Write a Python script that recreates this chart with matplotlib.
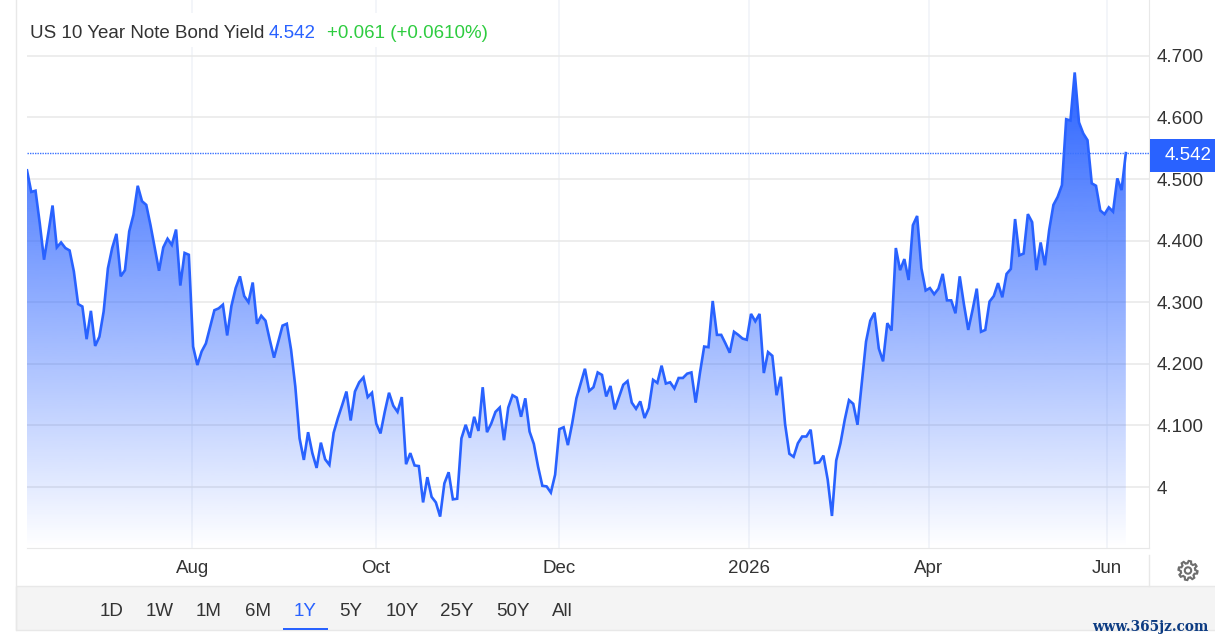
'''US 10 year yield, one year area chart with range selector bar'''

import numpy as np
from matplotlib import pyplot as plt
from matplotlib.patches import Circle, Polygon, Rectangle

plt.rcParams['font.family'] = ['Liberation Sans', 'DejaVu Sans']

BLUE = '#2962ff'
TEXT = '#333333'
GRID = '#e8e8e8'

# daily yield values
yields_jun_sep = [
    4.514, 4.479, 4.481, 4.428, 4.369, 4.412, 4.457, 4.389, 4.397, 4.388,
    4.384, 4.350, 4.297, 4.293, 4.240, 4.286, 4.229, 4.244, 4.285, 4.355,
    4.388, 4.411, 4.342, 4.352, 4.415, 4.442, 4.489, 4.464, 4.458, 4.425,
    4.388, 4.351, 4.389, 4.403, 4.393, 4.418, 4.327, 4.380, 4.377, 4.228,
    4.198, 4.220, 4.233, 4.260, 4.287, 4.290, 4.296, 4.246, 4.294, 4.323,
    4.342, 4.310, 4.300, 4.332, 4.265, 4.278, 4.270, 4.239, 4.210, 4.236,
    4.262, 4.265, 4.223, 4.163, 4.079, 4.044, 4.089, 4.055, 4.031, 4.072,
    4.045, 4.036, 4.088, 4.112, 4.133, 4.155, 4.108, 4.155, 4.170, 4.178,
    4.146, 4.153, 4.103, 4.087, 4.122, 4.153, 4.132, 4.122,
]
yields_oct_jan = [
    4.146, 4.037, 4.055, 4.035, 4.034, 3.975, 4.016, 3.984, 3.975, 3.952,
    4.006, 4.024, 3.980, 3.981, 4.079, 4.101, 4.080, 4.114, 4.091, 4.162,
    4.089, 4.103, 4.122, 4.129, 4.076, 4.129, 4.149, 4.145, 4.114, 4.144,
    4.090, 4.070, 4.033, 4.002, 4.001, 3.991, 4.020, 4.094, 4.097, 4.068,
    4.103, 4.144, 4.168, 4.192, 4.156, 4.162, 4.186, 4.182, 4.147, 4.164,
    4.126, 4.146, 4.166, 4.172, 4.137, 4.127, 4.139, 4.112, 4.128, 4.174,
    4.169, 4.197, 4.168, 4.170, 4.160, 4.177, 4.177, 4.184, 4.186, 4.137,
    4.185, 4.228, 4.227, 4.302, 4.247, 4.247, 4.233, 4.218, 4.252, 4.247,
    4.241, 4.239, 4.281, 4.269, 4.281, 4.185, 4.219, 4.213, 4.149, 4.179,
    4.102, 4.054, 4.049,
]
yields_feb_jun = [
    4.071, 4.082, 4.082, 4.093, 4.039, 4.040, 4.051, 4.012, 3.953, 4.043,
    4.071, 4.109, 4.141, 4.135, 4.101, 4.168, 4.236, 4.270, 4.283, 4.225,
    4.204, 4.266, 4.254, 4.388, 4.352, 4.370, 4.336, 4.425, 4.440, 4.355,
    4.319, 4.323, 4.313, 4.322, 4.346, 4.303, 4.303, 4.282, 4.342, 4.296,
    4.255, 4.287, 4.322, 4.252, 4.255, 4.301, 4.310, 4.331, 4.308, 4.346,
    4.354, 4.435, 4.376, 4.379, 4.443, 4.430, 4.352, 4.397, 4.360, 4.417,
    4.458, 4.471, 4.490, 4.597, 4.595, 4.673, 4.592, 4.574, 4.563, 4.493,
    4.489, 4.449, 4.443, 4.454, 4.447, 4.501, 4.482, 4.542,
]
last_value = 4.542

month_ticks = [38.8, 81.9, 125.0, 169.5, 211.7, 253.6]
month_labels = ['Aug', 'Oct', 'Dec', '2026', 'Apr', 'Jun']
yield_ticks = [4.0, 4.1, 4.2, 4.3, 4.4, 4.5, 4.6, 4.7]
yield_labels = ['4', '4.100', '4.200', '4.300', '4.400', '4.500', '4.600', '4.700']
range_labels = ['1D', '1W', '1M', '6M', '1Y', '5Y', '10Y', '25Y', '50Y', 'All']
range_centers = [112, 160, 209, 258, 305, 351, 402, 457, 513, 562]

y = np.array(yields_jun_sep + yields_oct_jan + yields_feb_jun)
x = np.arange(len(y))

W, H = 1215, 643
fig = plt.figure(figsize=(W / 100, H / 100), dpi=100)

# chart area, plot box runs from pixel 27 to 1149 and from 0 to 548
ax = fig.add_axes([27 / W, 1 - 548 / H, (1149 - 27) / W, 548 / H])
ax.set_axisbelow(True)
ax.grid(axis='y', color=GRID, lw=1.1)
ax.grid(axis='x', color='#f0f3f8', lw=1.1)

# gradient fill, alpha falls linearly from the peak down to the bottom
gradient = np.zeros((256, 1, 4))
gradient[..., 0], gradient[..., 1], gradient[..., 2] = 41 / 255, 98 / 255, 1.0
gradient[:, 0, 3] = np.linspace(1, 0, 256)
ymin, ymax = 3.901, 4.7906
poly = ax.fill_between(x, y, ymin, color='none')
img = ax.imshow(gradient, extent=(0, len(y) - 1, ymin, y.max()), aspect='auto',
                origin='upper', zorder=2)
img.set_clip_path(poly.get_paths()[0], transform=ax.transData)

ax.plot(x, y, color=BLUE, lw=1.9, zorder=3, solid_joinstyle='miter')
ax.axhline(last_value, color='#3a72ff', lw=1, ls=(0, (1, 0.8)), zorder=3)

ax.set_xlim(0, (1149 - 27) / 4.259)
ax.set_ylim(ymin, ymax)
ax.set_xticks(month_ticks, month_labels)
ax.set_yticks(yield_ticks, yield_labels)
ax.yaxis.tick_right()
ax.tick_params(axis='x', length=0, pad=8.6, labelsize=13.5, labelcolor=TEXT)
ax.tick_params(axis='y', length=0, pad=5.4, labelsize=13.5, labelcolor=TEXT)
ax.spines['left'].set_visible(False)
ax.spines['top'].set_visible(False)
ax.spines['right'].set_color(GRID)
ax.spines['bottom'].set_color(GRID)

# everything around the chart lives in an overlay using pixel coordinates
over = fig.add_axes([0, 0, 1, 1], zorder=5)
over.set_xlim(0, W)
over.set_ylim(H, 0)
over.axis('off')

over.add_patch(Rectangle((27, 13), 468, 34, fc='white', ec='none'))
over.text(30, 33, 'US 10 Year Note Bond Yield', fontsize=13.5, color=TEXT, va='center')
over.text(269, 33, '4.542', fontsize=13.5, color=BLUE, va='center')
over.text(327, 33, '+0.061 (+0.0610%)', fontsize=13.5, color='#2ecc40', va='center')

over.add_patch(Rectangle((1150, 139), 65, 33, fc=BLUE, ec='none'))
over.text(1188.5, 156, '4.542', fontsize=13.5, color='white', ha='center', va='center')

over.plot([16, 16], [0, 630], color=GRID, lw=1)
over.plot([1149, 1149], [555, 586], color=GRID, lw=1)

# range selector bar
over.add_patch(Rectangle((16, 586), W, 44, fc='#f4f4f4', ec=GRID, lw=1))
for label, cx in zip(range_labels, range_centers):
    over.text(cx, 612, label, fontsize=13.5, ha='center', va='center',
              color=BLUE if label == '1Y' else TEXT)
over.add_patch(Rectangle((283, 627.5), 45, 2.5, fc=BLUE, ec='none'))

# settings gear icon, eight teeth around a small ring
angles = np.linspace(0, 2 * np.pi, 48, endpoint=False) + np.pi / 48
radii = np.where(np.arange(48) % 6 < 3, 9.6, 7.2)
gear = np.column_stack([1188 + radii * np.cos(angles), 570.5 + radii * np.sin(angles)])
over.add_patch(Polygon(gear, closed=True, fc='none', ec='#6e6e6e', lw=1.5))
over.add_patch(Circle((1188, 570.5), 3.2, fc='none', ec='#6e6e6e', lw=1.5))

over.text(1150.5, 627.5, 'www.365jz.com', fontsize=9.8, color='#0c3b82', ha='center',
          va='center', family='DejaVu Serif', fontweight='bold')

fig.savefig('out.png', dpi=100)
